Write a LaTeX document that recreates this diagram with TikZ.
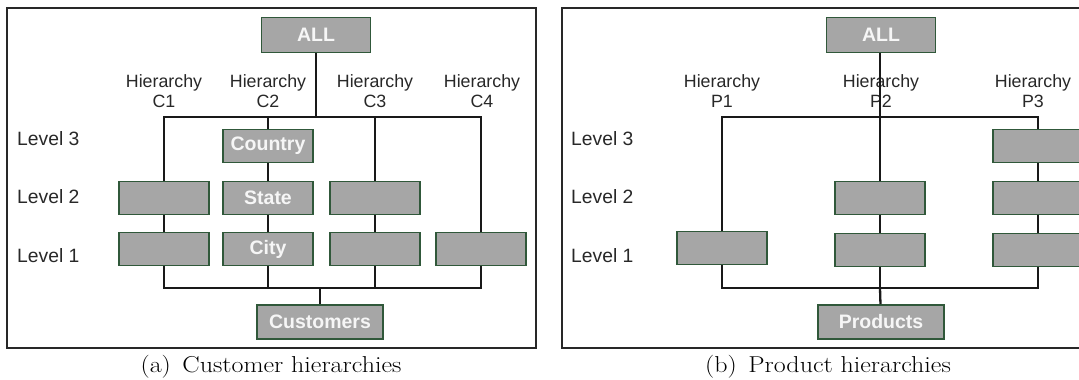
\documentclass[tikz,border=0pt]{standalone}
\usepackage{fontspec}
\usepackage{tikz}
\usetikzlibrary{positioning, calc}
\newfontfamily\arialfont{Liberation Sans}
\newfontfamily\capfont[FakeStretch=1.13]{Latin Modern Roman}
\definecolor{boxgray}{RGB}{166,166,166}
\definecolor{boxgreen}{RGB}{48,88,58}
\definecolor{txtdark}{RGB}{40,40,40}
\definecolor{txtwhite}{RGB}{246,246,246}
\definecolor{linedark}{RGB}{25,25,25}
\tikzset{
  lvlbox/.style={rectangle, draw=boxgreen, fill=boxgray,
    minimum width=90pt, minimum height=33pt, inner sep=0pt,
    font=\arialfont\fontsize{19.5}{22}\selectfont\bfseries,
    text=txtwhite, line width=1.8pt},
  endbox/.style={lvlbox, minimum width=126pt, minimum height=34pt},
  hlabel/.style={align=center, inner sep=0pt, text=txtdark,
    font=\arialfont\fontsize{17.8}{20}\selectfont},
  lvllabel/.style={anchor=west, inner sep=0pt, text=txtdark,
    font=\arialfont\fontsize{19.3}{22}\selectfont},
  caption/.style={inner sep=0pt, font=\capfont\fontsize{23}{26}\selectfont},
  conn/.style={color=linedark, line width=1.5pt},
  mainconn/.style={color=linedark, line width=2.3pt}
}

\begin{document}
\begin{tikzpicture}[x=1pt, y=-1pt,
  panel/.style={draw=txtdark, line width=1.2pt}]
  \clip (0,0) rectangle (1079,380);

  % Panels
  \draw[panel] (7,8) rectangle (536,348);
  \draw[panel] (562,8) rectangle (1100,348);

  % Customer hierarchies
  \node[endbox, minimum width=109pt, minimum height=35pt] (call) at (316,35) {ALL};
  \foreach \x/\n in {164/1, 268/2, 375/3, 482/4}
    \node[hlabel] (hc\n) at (\x,91) {Hierarchy\\C\n};
  \node[lvllabel] (cl3) at (17,139) {Level 3};
  \node[lvllabel] (cl2) at (17,197) {Level 2};
  \node[lvllabel] (cl1) at (17,256) {Level 1};

  \node[lvlbox] (c1b) at (164,198) {};
  \node[lvlbox] (c1a) at (164,249) {};
  \node[lvlbox] (country) at (268,146) {Country};
  \node[lvlbox] (state) at (268,198) {State};
  \node[lvlbox] (city) at (268,249) {City};
  \node[lvlbox] (c3b) at (375,198) {};
  \node[lvlbox] (c3a) at (375,249) {};
  \node[lvlbox] (c4a) at (481,249) {};
  \node[endbox] (cust) at (320,322) {Customers};

  \coordinate (ctop) at (316,117);
  \coordinate (cbot) at (320,288);
  \draw[mainconn] (call) -- (ctop);
  \draw[conn] (c1b.north) |- (ctop) -| (c4a.north);
  \draw[conn] (country.north) -- (country.north |- ctop);
  \draw[conn] (c3b.north) -- (c3b.north |- ctop);
  \draw[conn] (c1b) -- (c1a);
  \draw[conn] (country) -- (state);
  \draw[conn] (state) -- (city);
  \draw[conn] (c3b) -- (c3a);
  \draw[conn] (c1a.south) |- (cbot) -| (c4a.south);
  \draw[conn] (city.south) -- (city.south |- cbot);
  \draw[conn] (c3a.south) -- (c3a.south |- cbot);
  \draw[mainconn] (cbot) -- (cust);

  \node[caption] (capa) at (271,367) {(a)\enspace Customer hierarchies};

  % Product hierarchies
  \node[endbox, minimum width=109pt, minimum height=35pt] (pall) at (881,35) {ALL};
  \foreach \x/\n in {722/1, 881/2, 1033/3}
    \node[hlabel] (hp\n) at (\x,91) {Hierarchy\\P\n};
  \node[lvllabel] (pl3) at (571,139) {Level 3};
  \node[lvllabel] (pl2) at (571,197) {Level 2};
  \node[lvllabel] (pl1) at (571,256) {Level 1};

  \node[lvlbox] (p1a) at (722,248) {};
  \node[lvlbox] (p2b) at (880,198) {};
  \node[lvlbox] (p2a) at (880,250) {};
  \node[lvlbox] (p3c) at (1038,146) {};
  \node[lvlbox] (p3b) at (1038,198) {};
  \node[lvlbox] (p3a) at (1038,250) {};
  \node[endbox] (prod) at (881,322) {Products};

  \coordinate (ptop) at (880,117);
  \coordinate (pbot) at (880,288);
  \draw[conn] (p1a.north) |- (ptop) -| (p3c.north);
  \draw[mainconn] (pall.south -| p2b.north) -- (p2b.north);
  \draw[conn] (p2b) -- (p2a);
  \draw[conn] (p3c) -- (p3b);
  \draw[conn] (p3b) -- (p3a);
  \draw[conn] (p1a.south) |- (pbot) -| (p3a.south);
  \draw[conn] (p2a) -- (pbot);
  \draw[mainconn] (pbot) -- (prod);

  \node[caption] (capb) at (828,367) {(b)\enspace Product hierarchies};
\end{tikzpicture}
\end{document}
